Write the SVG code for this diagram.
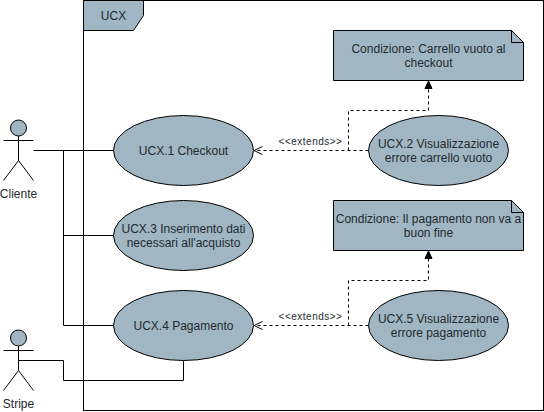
<svg xmlns="http://www.w3.org/2000/svg" width="544" height="412" viewBox="0 0 544 412">
<style>
text{font-family:"Liberation Sans",Arial,sans-serif;font-size:12px;fill:#1f2a30;text-anchor:middle}
.s{fill:#a0b6c3;stroke:#000;stroke-width:1}
.n{fill:none;stroke:#000;stroke-width:1}
.d{fill:none;stroke:#000;stroke-width:1;stroke-dasharray:3 3}
.l{font-size:10px;letter-spacing:.5px}
</style>
<defs>
<marker id="open" markerUnits="userSpaceOnUse" markerWidth="12" markerHeight="12" refX="10" refY="6" orient="auto"><path d="M1.5 2 L10 6 L1.5 10" fill="none" stroke="#000"/></marker>
<marker id="block" markerUnits="userSpaceOnUse" markerWidth="10" markerHeight="10" refX="8" refY="5" orient="auto"><path d="M0.5 1.5 L8 5 L0.5 8.5 Z" fill="#000" stroke="#000"/></marker>
</defs>
<g id="frame">
<rect x="83.5" y="0.5" width="460" height="410" fill="#fff" stroke="#000"/>
<path class="s" d="M83.5 0.5H143.5V15.5L133.5 30.5H83.5Z"/>
<text x="113.5" y="20">UCX</text>
</g>
<g id="connectors">
<path class="n" d="M33.5 150.5H113.5M63.5 150.5V325.5H113.5M63.5 235.5H113.5"/>
<path class="n" d="M18.5 360.5H63.5V380.5H183.5V360.5"/>
<path class="d" d="M368.5 150.5H254" marker-end="url(#open)"/>
<path class="d" d="M348.5 150.5V110.5H428.5V81" marker-end="url(#block)"/>
<path class="d" d="M368.5 325.5H254" marker-end="url(#open)"/>
<path class="d" d="M348.5 325.5V280.5H428.5V251" marker-end="url(#block)"/>
<text class="l" x="310.5" y="145">&lt;&lt;extends&gt;&gt;</text>
<text class="l" x="310.5" y="320">&lt;&lt;extends&gt;&gt;</text>
</g>
<g id="cliente">
<circle class="s" cx="18.5" cy="128" r="8"/>
<path class="n" d="M18.5 136V160.5M3.5 140.5H33.5M3.5 180.5L18.5 160.5L33.5 180.5"/>
<text x="18.5" y="198">Cliente</text>
</g>
<g id="stripe">
<circle class="s" cx="18.5" cy="338" r="8"/>
<path class="n" d="M18.5 346V370.5M3.5 350.5H33.5M3.5 390.5L18.5 370.5L33.5 390.5"/>
<text x="18.5" y="408">Stripe</text>
</g>
<g id="ucx1"><ellipse class="s" cx="183.5" cy="150.5" rx="70" ry="35"/><text x="183.5" y="155">UCX.1 Checkout</text></g>
<g id="ucx2"><ellipse class="s" cx="438.5" cy="150.5" rx="70" ry="35"/><text x="438.5" y="148">UCX.2 Visualizzazione</text><text x="438.5" y="162">errore carrello vuoto</text></g>
<g id="ucx3"><ellipse class="s" cx="183.5" cy="235.5" rx="70" ry="35"/><text x="183.5" y="233">UCX.3 Inserimento dati</text><text x="183.5" y="247">necessari all'acquisto</text></g>
<g id="ucx4"><ellipse class="s" cx="183.5" cy="325.5" rx="70" ry="35"/><text x="183.5" y="330">UCX.4 Pagamento</text></g>
<g id="ucx5"><ellipse class="s" cx="438.5" cy="325.5" rx="70" ry="35"/><text x="438.5" y="323">UCX.5 Visualizzazione</text><text x="438.5" y="337">errore pagamento</text></g>
<g id="note1"><path class="s" d="M333.5 30.5H511.5L523.5 42.5V80.5H333.5Z"/><path class="n" d="M511.5 30.5V42.5H523.5"/><text x="428.5" y="53">Condizione: Carrello vuoto al</text><text x="428.5" y="67">checkout</text></g>
<g id="note2"><path class="s" d="M333.5 200.5H511.5L523.5 212.5V250.5H333.5Z"/><path class="n" d="M511.5 200.5V212.5H523.5"/><text x="428.5" y="223">Condizione: Il pagamento non va a</text><text x="428.5" y="237">buon fine</text></g>
</svg>
